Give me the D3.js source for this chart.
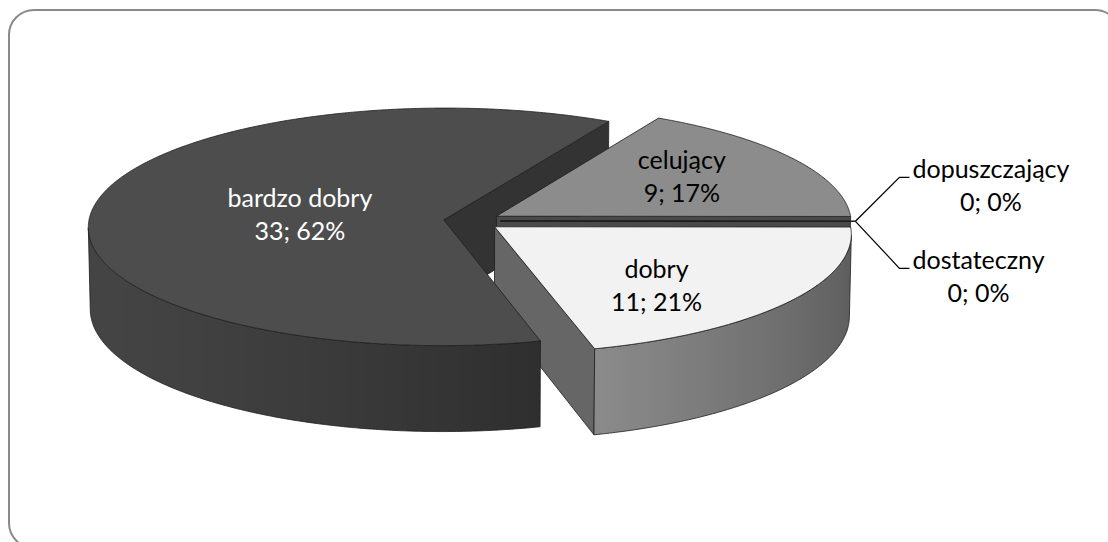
<!DOCTYPE html>
<html>
<head>
<meta charset="utf-8">
<script src="https://cdn.jsdelivr.net/npm/d3@7"></script>
<style>
  html, body { margin: 0; padding: 0; background: #fff; }
  svg { display: block; }
  text { font-family: Lato, "Open Sans", sans-serif; }
</style>
</head>
<body>
<svg id="chart" width="1108" height="542"></svg>
<script>
// ---- data ----
const categories = ["celujący", "dopuszczający", "dostateczny", "dobry", "bardzo dobry"];
const counts = [9, 0, 0, 11, 33];

// ---- chart settings ----
const firstSliceAngle = 29;          // degrees, clockwise from 12 o'clock
const deg = Math.PI / 180;
const tilt = 19.5 * deg;             // elevation of the view
const camDist = 16;                  // camera distance in pie radii
const focal = 355 * camDist;         // px per radius at the pie centre
const origin = [472, 221];           // screen position of the pie centre (top face)
const thickness = 0.245;             // pie height in radii
const explode = 0.08;                // radial explosion in radii
const fontSize = 25;
const lineH = 33;

const topFill    = ["#8c8c8c", "#5a5a5a", "#3a3a3a", "#f2f2f2", "#4d4d4d"];
const radialFill = ["#4a4a4a", "#3c3c3c", "#303030", "#666666", "#333333"];
const sideDark   = ["#505050", "#333333", "#222222", "#595959", "#181818"];
const sideLight  = ["#a0a0a0", "#555555", "#444444", "#bababa", "#444444"];
const edge = "#1e1e1e";

const svg = d3.select("#chart");
const defs = svg.append("defs");

// frame
svg.append("rect")
  .attr("x", 9).attr("y", 10).attr("width", 1111).attr("height", 538)
  .attr("rx", 25).attr("ry", 25)
  .attr("fill", "#fff").attr("stroke", "#8a8a8a").attr("stroke-width", 2);

const total = d3.sum(counts);
const pie = d3.pie().sort(null).value(d => d)
  .startAngle(firstSliceAngle * deg)
  .endAngle(firstSliceAngle * deg + 2 * Math.PI);
const arcs = pie(counts);

// ---- 3D projection ----
const cosT = Math.cos(tilt), sinT = Math.sin(tilt);
const cam = [0, camDist * sinT, -camDist * cosT];
function proj(p) {
  const yc = p[1] * cosT + p[2] * sinT;
  const zc = p[2] * cosT - p[1] * sinT;
  const d = camDist + zc;
  return [origin[0] + focal * p[0] / d, origin[1] - focal * yc / d];
}
function depth(p) { return p[2] * cosT - p[1] * sinT; }
function centroid(pts) {
  const n = pts.length;
  return [d3.sum(pts, p => p[0]) / n, d3.sum(pts, p => p[1]) / n, d3.sum(pts, p => p[2]) / n];
}
function facing(normal, pts) {
  const c = centroid(pts);
  return normal[0] * (cam[0] - c[0]) + normal[1] * (cam[1] - c[1]) + normal[2] * (cam[2] - c[2]) > 0;
}
const line2d = d3.line();
function pathOf(pts) { return line2d(pts.map(proj)) + "Z"; }

const light = (() => { const l = [-1, 0, -0.3]; const m = Math.hypot(...l); return l.map(v => v / m); })();

const sideItems = [];
const topItems = [];
let gradId = 0;

arcs.forEach((a, i) => {
  const a0 = a.startAngle, a1 = a.endAngle, mid = (a0 + a1) / 2;
  const ox = explode * Math.sin(mid), oz = explode * Math.cos(mid);
  const rim = (t, y) => [ox + Math.sin(t), y, oz + Math.cos(t)];
  const C = [ox, 0, oz], Cb = [ox, -thickness, oz];

  // radial faces
  const f0 = [C, rim(a0, 0), rim(a0, -thickness), Cb];
  const n0 = [-Math.cos(a0), 0, Math.sin(a0)];
  const f1 = [C, rim(a1, 0), rim(a1, -thickness), Cb];
  const n1 = [Math.cos(a1), 0, -Math.sin(a1)];
  [[f0, n0], [f1, n1]].forEach(([f, n], k) => {
    if (a1 - a0 < 1e-9 && k === 1) return;
    if (facing(n, f)) {
      sideItems.push({ depth: depth(centroid(f)), draw: g => {
        g.append("path").attr("d", pathOf(f)).attr("fill", radialFill[i])
          .attr("stroke", edge).attr("stroke-width", 0.8).attr("stroke-linejoin", "round");
      }});
    }
  });

  // outer side: visible strips, shaded by their facing, filled as one gradient path per run
  const steps = Math.max(1, Math.ceil((a1 - a0) / (0.75 * deg)));
  const strips = [];
  for (let s = 0; s < steps && a1 > a0; s++) {
    const t0 = a0 + (a1 - a0) * s / steps, t1 = a0 + (a1 - a0) * (s + 1) / steps;
    const tm = (t0 + t1) / 2;
    const n = [Math.sin(tm), 0, Math.cos(tm)];
    const q = [rim(t0, 0), rim(t1, 0), rim(t1, -thickness), rim(t0, -thickness)];
    if (facing(n, q)) {
      const lt = (n[0] * light[0] + n[2] * light[2] + 1) / 2;
      strips.push({ t0, t1, tm, q, color: d3.interpolateRgb(sideDark[i], sideLight[i])(lt) });
    }
  }
  if (strips.length) {
    const runs = [];
    strips.forEach(s => {
      const last = runs[runs.length - 1];
      if (last && Math.abs(last.t1 - s.t0) < 1e-9) { last.t1 = s.t1; last.strips.push(s); }
      else runs.push({ t0: s.t0, t1: s.t1, strips: [s] });
    });
    const dep = d3.mean(strips, s => depth(centroid(s.q)));
    sideItems.push({ depth: dep, draw: g => {
      runs.forEach(r => {
        const xs = r.strips.map(s => proj(rim(s.tm, 0))[0]);
        const x1 = proj(rim(r.t0, 0))[0], x2 = proj(rim(r.t1, 0))[0];
        const id = "side" + (gradId++);
        const gr = defs.append("linearGradient").attr("id", id)
          .attr("gradientUnits", "userSpaceOnUse")
          .attr("x1", x1).attr("x2", x2).attr("y1", 0).attr("y2", 0);
        let prev = 0;
        r.strips.forEach((s, k) => {
          let off = (xs[k] - x1) / (x2 - x1);
          off = Math.min(1, Math.max(prev, off));
          prev = off;
          gr.append("stop").attr("offset", off).attr("stop-color", s.color);
        });
        const n = Math.max(2, Math.ceil((r.t1 - r.t0) / (0.5 * deg)));
        const topArc = d3.range(n + 1).map(k => rim(r.t0 + (r.t1 - r.t0) * k / n, 0));
        const botArc = d3.range(n + 1).map(k => rim(r.t1 - (r.t1 - r.t0) * k / n, -thickness));
        g.append("path").attr("d", pathOf(topArc.concat(botArc))).attr("fill", `url(#${id})`)
          .attr("stroke", edge).attr("stroke-width", 0.8).attr("stroke-linejoin", "round");
      });
    }});
  }

  // top face
  const n = Math.max(1, Math.ceil((a1 - a0) / (0.5 * deg)));
  const arcPts = d3.range(n + 1).map(k => rim(a0 + (a1 - a0) * k / n, 0));
  const topPts = [C].concat(arcPts);
  topItems.push({ depth: depth(centroid(topPts)), draw: g => {
    g.append("path").attr("d", pathOf(topPts)).attr("fill", topFill[i])
      .attr("stroke", edge).attr("stroke-width", 0.8).attr("stroke-linejoin", "round");
  }});

  a.geo = { ox, oz, mid, rim };
});

const pieG = svg.append("g");
sideItems.sort((p, q) => q.depth - p.depth).forEach(it => it.draw(pieG));
topItems.sort((p, q) => q.depth - p.depth).forEach(it => it.draw(pieG));

// ---- data labels ----
const fmt = (v) => `${v}; ${Math.round(v / total * 100)}%`;
const labelG = svg.append("g").attr("font-size", fontSize);

// labels sitting on the slices
const insideLabel = {
  0: { r: 0.62, dy: -3, color: "#000" },
  3: { r: 0.56, dy: 18, color: "#000" },
  4: { r: 0.41, dy: 1, color: "#fff" }
};
Object.keys(insideLabel).forEach(key => {
  const i = +key, cfg = insideLabel[i], g0 = arcs[i].geo;
  const p = proj([g0.ox + cfg.r * Math.sin(g0.mid), 0, g0.oz + cfg.r * Math.cos(g0.mid)]);
  const t = labelG.append("text").attr("text-anchor", "middle").attr("fill", cfg.color);
  [categories[i], fmt(counts[i])].forEach((s, k) => {
    t.append("tspan").attr("x", p[0]).attr("y", p[1] + cfg.dy + (k - 0.5) * lineH + 0.35 * fontSize).text(s);
  });
});

// labels for the empty slices, with leader lines
const outside = [{ i: 1, dx: 44, dy: -44 }, { i: 2, dx: 44, dy: 47 }];
outside.forEach(o => {
  const g0 = arcs[o.i].geo;
  const start = proj(g0.rim(g0.mid, 0));
  const elbow = [start[0] + o.dx, start[1] + o.dy];
  const end = [elbow[0] + 10, elbow[1]];
  labelG.append("path").attr("d", d3.line()([start, elbow, end]))
    .attr("fill", "none").attr("stroke", "#000").attr("stroke-width", 1.2);
  const t = labelG.append("text").attr("text-anchor", "middle").attr("fill", "#000");
  const lines = [categories[o.i], fmt(counts[o.i])];
  const spans = lines.map((s, k) => t.append("tspan").attr("y", elbow[1] + k * lineH + 1).text(s));
  const w = d3.max(spans, sp => sp.node().getComputedTextLength());
  spans.forEach(sp => sp.attr("x", end[0] + 3 + w / 2));
});
</script>
</body>
</html>
